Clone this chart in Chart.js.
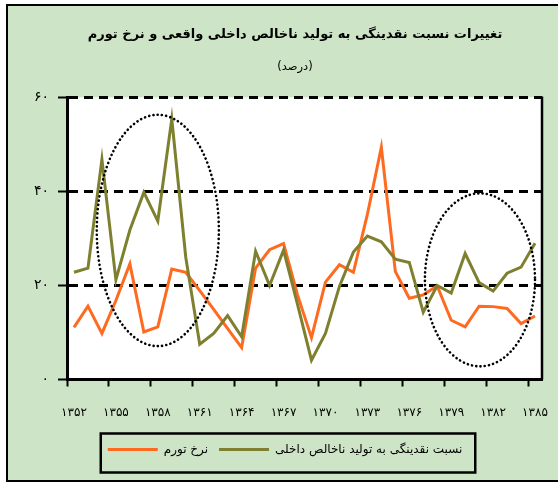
<!DOCTYPE html>
<html>
<head>
<meta charset="utf-8">
<script src="https://cdn.jsdelivr.net/npm/chart.js@4"></script>
<style>
html,body{margin:0;padding:0;background:#fff;}
canvas{display:block;}
</style>
</head>
<body>
<canvas id="c" width="558" height="483"></canvas>
<script>
// ---- data ----
const years = ['۱۳۵۲','۱۳۵۳','۱۳۵۴','۱۳۵۵','۱۳۵۶','۱۳۵۷','۱۳۵۸','۱۳۵۹','۱۳۶۰','۱۳۶۱','۱۳۶۲','۱۳۶۳','۱۳۶۴','۱۳۶۵','۱۳۶۶','۱۳۶۷','۱۳۶۸','۱۳۶۹','۱۳۷۰','۱۳۷۱','۱۳۷۲','۱۳۷۳','۱۳۷۴','۱۳۷۵','۱۳۷۶','۱۳۷۷','۱۳۷۸','۱۳۷۹','۱۳۸۰','۱۳۸۱','۱۳۸۲','۱۳۸۳','۱۳۸۴','۱۳۸۵'];
const inflation = [11.1,15.6,9.8,16.8,24.6,10.1,11.2,23.5,22.8,18.9,14.9,10.8,6.8,23.7,27.6,28.9,18.0,8.9,20.7,24.4,22.8,35.1,49.4,23.0,17.3,18.0,19.9,12.6,11.2,15.6,15.5,15.1,11.9,13.5];
const liquidityRatio = [22.8,23.7,46.8,21.2,31.8,39.8,33.7,55.4,26.0,7.5,9.8,13.6,9.1,27.3,20.0,27.5,16.0,4.1,9.8,19.8,27.1,30.5,29.3,25.6,24.9,14.3,20.0,18.4,26.8,20.6,18.8,22.6,23.9,29.0];
const yTickLabels = ['۰','۲۰','۴۰','۶۰'];
const seriesNames = ['نسبت نقدینگی به تولید ناخالص داخلی','نرخ تورم'];
const titleText = 'تغییرات نسبت نقدینگی به تولید ناخالص داخلی واقعی و نرخ تورم';
const subtitleText = '(درصد)';
// highlighted regions (data units: category index, value)
const highlights = [
  {cx: 6.0, cy: 31.7, rx: 4.37, ry: 24.6},
  {cx: 29.06, cy: 21.2, rx: 3.94, ry: 18.4}
];

const GREEN_BG = '#CDE5C6';
const FONT = "'DejaVu Sans', sans-serif";
const LEGEND_FONT_SIZE = 12;
const LEGEND_BOX_W = 50;
const LEGEND_SHIFT = -10;
Chart.defaults.font.family = FONT;
Chart.defaults.color = '#000';

const framePlugin = {
  id: 'frame',
  afterLayout(chart) {
    const lg = chart.legend;
    if (lg) { lg.left += LEGEND_SHIFT; lg.right += LEGEND_SHIFT; }
  },
  beforeDraw(chart) {
    const ctx = chart.ctx, a = chart.chartArea;
    ctx.save();
    ctx.fillStyle = '#fff';
    ctx.fillRect(0, 0, chart.width, chart.height);
    ctx.fillStyle = GREEN_BG;
    ctx.fillRect(6, 4, chart.width - 6, 478);
    ctx.strokeStyle = '#000';
    ctx.lineWidth = 2;
    ctx.beginPath();
    ctx.moveTo(chart.width + 5, 5);
    ctx.lineTo(7, 5);
    ctx.lineTo(7, 481);
    ctx.lineTo(chart.width + 5, 481);
    ctx.stroke();
    ctx.fillStyle = '#fff';
    ctx.fillRect(a.left, a.top, a.right - a.left, a.bottom - a.top);
    ctx.restore();
  },
  afterDatasetsDraw(chart) {
    const ctx = chart.ctx, a = chart.chartArea;
    const xs = chart.scales.x, ys = chart.scales.y;
    const catW = xs.getPixelForValue(1) - xs.getPixelForValue(0);
    ctx.save();
    ctx.strokeStyle = '#000';
    ctx.lineWidth = 2.6;
    ctx.lineCap = 'round';
    ctx.setLineDash([0.1, 4.2]);
    highlights.forEach(h => {
      const cx = xs.getPixelForValue(h.cx);
      const cy = ys.getPixelForValue(h.cy);
      const rx = h.rx * catW;
      const ry = Math.abs(ys.getPixelForValue(h.cy + h.ry) - cy);
      ctx.beginPath();
      ctx.ellipse(cx, cy, rx, ry, 0, 0, Math.PI * 2);
      ctx.stroke();
    });
    ctx.restore();
    // right border of plot area
    ctx.save();
    ctx.strokeStyle = '#000';
    ctx.lineWidth = 2.5;
    ctx.beginPath();
    ctx.moveTo(a.right, a.top - 1);
    ctx.lineTo(a.right, a.bottom);
    ctx.stroke();
    ctx.restore();
  },
  afterDraw(chart) {
    const lg = chart.legend;
    if (!lg || !lg.legendHitBoxes || !lg.legendHitBoxes.length) return;
    const hb = lg.legendHitBoxes;
    const items = lg.legendItems;
    const ctx = chart.ctx;
    ctx.save();
    ctx.font = LEGEND_FONT_SIZE + 'px ' + FONT;
    let l = Infinity, r = -Infinity;
    hb.forEach((b, i) => {
      l = Math.min(l, b.left);
      const tw = ctx.measureText(items[i].text).width;
      r = Math.max(r, b.left + LEGEND_BOX_W + LEGEND_FONT_SIZE / 2 + tw);
    });
    const cy = hb[0].top + hb[0].height / 2;
    ctx.strokeStyle = '#000';
    ctx.lineWidth = 2.5;
    ctx.strokeRect(l - 7, cy - 16, (r - l) + 20, 39);
    ctx.restore();
  }
};

new Chart(document.getElementById('c'), {
  type: 'line',
  data: {
    labels: years,
    datasets: [
      {
        label: seriesNames[0],
        data: liquidityRatio,
        borderColor: '#7E8030',
        backgroundColor: '#7E8030',
        borderWidth: 3,
        pointRadius: 0,
        tension: 0
      },
      {
        label: seriesNames[1],
        data: inflation,
        borderColor: '#FF6A21',
        backgroundColor: '#FF6A21',
        borderWidth: 3,
        pointRadius: 0,
        tension: 0
      }
    ]
  },
  options: {
    responsive: false,
    animation: false,
    layout: {padding: {left: 48, right: 16, top: 0, bottom: 17.5}},
    plugins: {
      title: {
        display: true,
        text: titleText,
        font: {family: FONT, size: 13, weight: 'bold'},
        color: '#000',
        padding: {top: 27, bottom: 0}
      },
      subtitle: {
        display: true,
        text: subtitleText,
        font: {family: FONT, size: 11.5},
        color: '#000',
        padding: {top: 17.5, bottom: 23.5}
      },
      legend: {
        position: 'bottom',
        reverse: true,
        labels: {
          usePointStyle: true,
          pointStyle: 'line',
          pointStyleWidth: LEGEND_BOX_W,
          font: {family: FONT, size: LEGEND_FONT_SIZE},
          color: '#000',
          padding: 11
        }
      },
      tooltip: {enabled: false}
    },
    scales: {
      x: {
        offset: true,
        afterFit: s => {
          s.height = 53;
          // labels fit inside the plot frame; no extra side padding needed
          s.paddingLeft = 0;
          s.paddingRight = 0;
        },
        grid: {
          offset: true,
          drawOnChartArea: false,
          drawTicks: true,
          tickLength: 7,
          tickWidth: 2,
          tickColor: ctx => (ctx.index % 3 === 0 ? '#000' : 'rgba(0,0,0,0)')
        },
        border: {display: true, color: '#000', width: 3},
        ticks: {
          autoSkip: false,
          maxRotation: 0,
          minRotation: 0,
          padding: 19,
          font: {family: FONT, size: 12},
          color: '#000',
          callback: (v, i) => (i % 3 === 0 ? years[i] : '')
        }
      },
      y: {
        min: 0,
        max: 60,
        afterFit: s => {
          s.width = 19;
          // let tick labels extend left of the narrow axis box
          s._computeLabelArea = () => undefined;
        },
        grid: {
          color: '#000',
          lineWidth: 3,
          drawTicks: true,
          tickLength: 9,
          tickWidth: 2,
          tickColor: '#000'
        },
        border: {display: true, color: '#000', width: 3, dash: [9, 6]},
        ticks: {
          stepSize: 20,
          padding: 9,
          font: {family: FONT, size: 14},
          color: '#000',
          callback: (v, i) => yTickLabels[i]
        }
      }
    }
  },
  plugins: [framePlugin]
});
</script>
</body>
</html>
